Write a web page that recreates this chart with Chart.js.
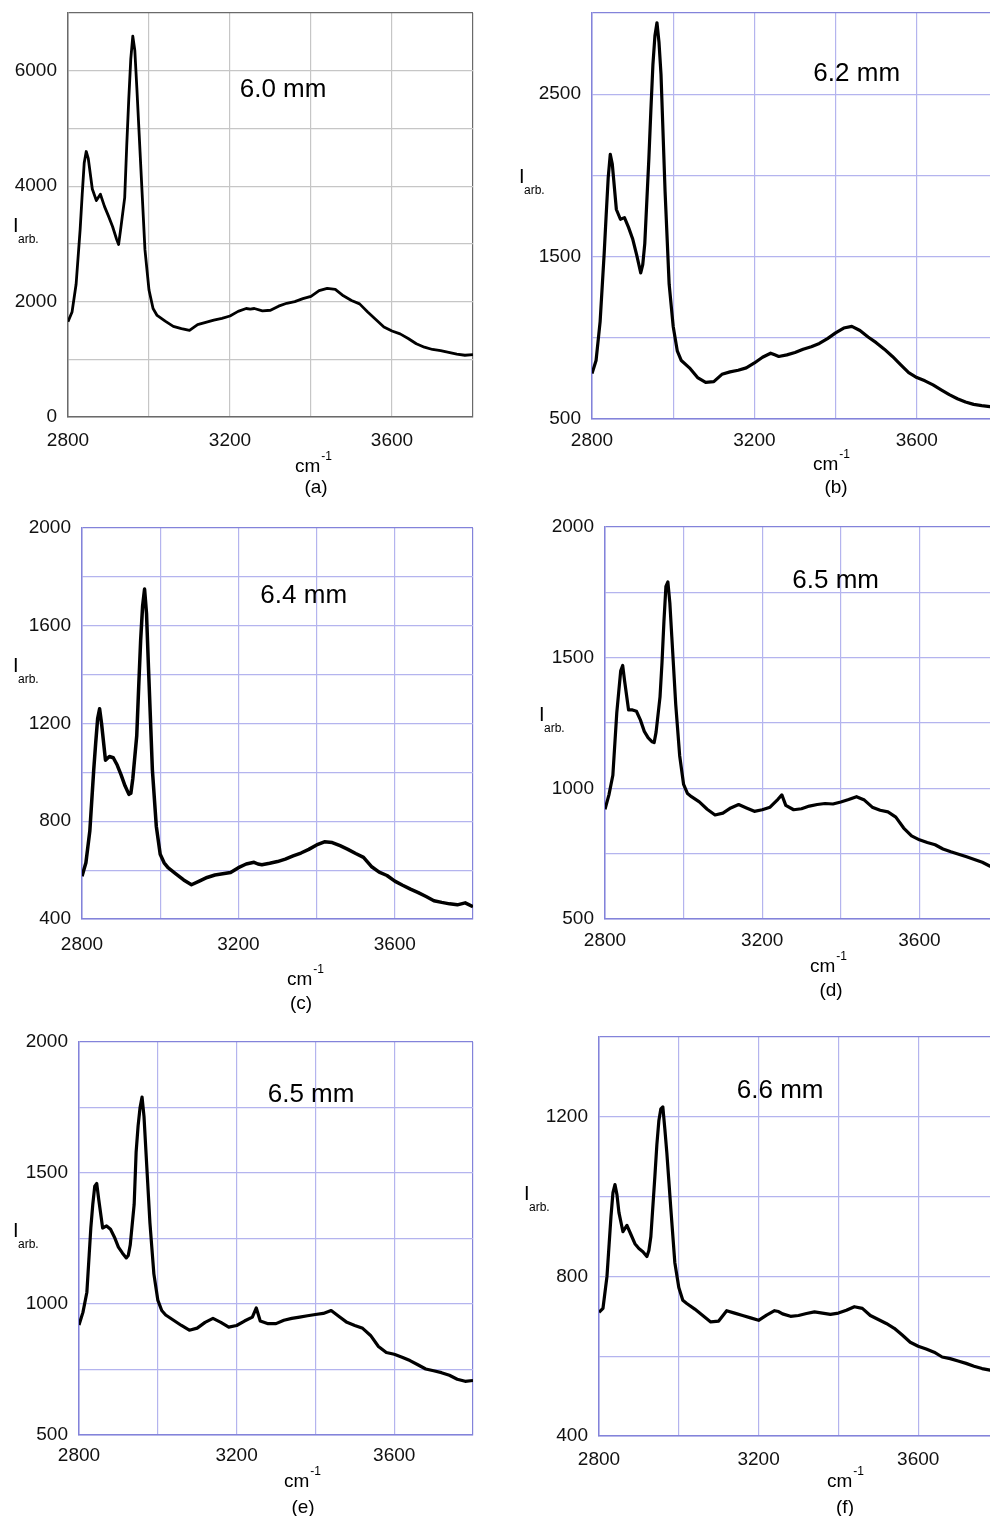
<!DOCTYPE html>
<html>
<head>
<meta charset="utf-8">
<script src="https://cdn.jsdelivr.net/npm/chart.js@4.4.1/dist/chart.umd.min.js"></script>
<style>
  html, body { margin: 0; padding: 0; background: #fff; overflow: hidden; }
  #page { position: relative; width: 990px; height: 1516px; overflow: hidden; background: #fff; }
  .panel { position: absolute; }
</style>
</head>
<body>
<div id="page"></div>
<script>
// Raman spectra, wavenumber in cm-1 (shared by all six panels)
const wavenumbers = [
  2800, 2810, 2820, 2830, 2835, 2840, 2845, 2850, 2860, 2870, 2880, 2890, 2900, 2910, 2920, 2925,
  2930, 2940, 2945, 2950, 2955, 2960, 2965, 2970, 2980, 2990, 3000, 3010, 3020, 3040, 3060, 3080,
  3100, 3120, 3140, 3160, 3180, 3200, 3220, 3240, 3250, 3260, 3280, 3300, 3320, 3340, 3360, 3380,
  3400, 3420, 3440, 3460, 3480, 3500, 3520, 3540, 3560, 3580, 3600, 3620, 3640, 3660, 3680, 3700,
  3720, 3740, 3760, 3780, 3800
];

// (a) 6.0 mm
const intensityA = [
  1650, 1820, 2300, 3250, 3850, 4400, 4600, 4480, 3950, 3750, 3860, 3650, 3480, 3300, 3080, 2990,
  3250, 3800, 4700, 5500, 6200, 6600, 6350, 5700, 4300, 2900, 2200, 1880, 1760, 1660, 1570, 1530,
  1500, 1600, 1640, 1680, 1710, 1750, 1830, 1880, 1870, 1880, 1840, 1850, 1920, 1970, 2000, 2050,
  2090, 2190, 2230, 2210, 2100, 2020, 1960, 1820, 1690, 1560, 1490, 1440, 1360, 1270, 1210, 1170,
  1150, 1120, 1090, 1070, 1080
];
// (b) 6.2 mm
const intensityB = [
  780, 860, 1100, 1520, 1760, 1990, 2130, 2070, 1790, 1730, 1740, 1680, 1610, 1510, 1400, 1450,
  1580, 2100, 2400, 2680, 2860, 2940, 2820, 2620, 1900, 1330, 1070, 920, 860, 815, 755, 725,
  730, 775, 790, 800, 815, 845, 880, 905, 895, 885, 895, 910, 930, 945, 965, 995,
  1030, 1060, 1070, 1045, 1005, 970, 930, 885, 835, 785, 755, 735, 710, 680, 650, 625,
  605, 590, 582, 576, 572
];
// (c) 6.4 mm
const intensityC = [
  575, 630, 760, 1010, 1120, 1220, 1260, 1200, 1050, 1065, 1060, 1030, 990, 945, 910, 915,
  975, 1150, 1350, 1540, 1680, 1750, 1650, 1430, 1010, 780, 665, 630, 610, 585, 560, 540,
  555, 570, 580, 585, 590, 610, 625, 632, 625, 622, 628, 635, 645, 658, 670, 685,
  703, 716, 713, 700, 685, 668, 652, 615, 592, 578, 555, 538, 522, 508, 492, 475,
  468, 462, 458, 466, 450
];
// (d) 6.5 mm
const intensityD = [
  920, 975, 1050, 1290, 1370, 1450, 1470, 1410, 1300, 1300, 1295, 1262, 1218, 1193, 1178, 1175,
  1215, 1350, 1480, 1640, 1773, 1790, 1710, 1580, 1320, 1125, 1015, 980, 968, 948, 920, 898,
  905, 925, 938, 925, 912, 918, 928, 958, 975, 935, 918, 922, 932, 938, 942, 940,
  948, 957, 968, 955, 928, 916, 910, 890, 848, 818, 803, 793, 784, 768, 757, 748,
  738, 728, 717, 702, 695
];
// (e) 6.5 mm
const intensityE = [
  920, 968, 1045, 1290, 1380, 1450, 1460, 1400, 1290, 1298, 1285, 1255, 1217, 1195, 1176, 1185,
  1225, 1380, 1580, 1680, 1750, 1790, 1715, 1580, 1310, 1115, 1015, 975, 958, 938, 918, 900,
  908, 930, 945, 930, 912, 918, 935, 950, 985, 935, 925, 925, 938, 945, 950, 955,
  960, 964, 975, 952, 930, 918, 907, 880, 838, 815, 808, 797, 784, 768, 752, 745,
  738, 728, 713, 705, 708
];
// (f) 6.6 mm
const intensityF = [
  710, 720, 800, 950, 1010, 1030, 1005, 960, 912, 928, 905, 882, 870, 862, 850, 865,
  900, 1050, 1130, 1190, 1220, 1225, 1170, 1110, 970, 835, 772, 740, 732, 718, 702, 686,
  688, 714, 708, 702, 696, 690, 703, 714, 712, 706, 700, 702, 707, 711, 708, 705,
  708, 715, 724, 720, 702, 692, 682, 670, 653, 635, 625, 618, 610, 598, 594, 588,
  582, 575, 569, 565, 560
];

const xTickLabels = [2800, 3200, 3600];
const yTickLabelsA = [0, 2000, 4000, 6000];
const yTickLabelsB = [500, 1500, 2500];
const yTickLabelsC = [400, 800, 1200, 1600, 2000];
const yTickLabelsD = [500, 1000, 1500, 2000];
const yTickLabelsE = [500, 1000, 1500, 2000];
const yTickLabelsF = [400, 800, 1200];

const distances = ['6.0 mm', '6.2 mm', '6.4 mm', '6.5 mm', '6.5 mm', '6.6 mm'];
const captions = ['(a)', '(b)', '(c)', '(d)', '(e)', '(f)'];

// layout of each panel on the page (plot box in page pixels)
const GRAY = { grid: '#c6c6c6', border: '#6a6a6a' };
const BLUE = { grid: '#b4b4ee', border: '#8383da' };
const panels = [
  { data: intensityA, yLabels: yTickLabelsA, plot: [68, 13, 473, 417], y: [0, 7000, 1000],
    xPad: 12, iPos: [-55, 219], cmPos: [227, 55], capPos: [248, 76], noteAt: [3331, 5662], colors: GRAY, lw: 2.8 },
  { data: intensityB, yLabels: yTickLabelsB, plot: [592, 13, 998, 419], y: [500, 3000, 500],
    xPad: 10, iPos: [-73, 170], cmPos: [221, 51], capPos: [244, 74], noteAt: [3452, 2623], colors: BLUE, lw: 3.2 },
  { data: intensityC, yLabels: yTickLabelsC, plot: [82, 528, 473, 919], y: [400, 2000, 200],
    xPad: 14, iPos: [-69, 144], cmPos: [205, 66], capPos: [219, 90], noteAt: [3367, 1722], colors: BLUE, lw: 3.5 },
  { data: intensityD, yLabels: yTickLabelsD, plot: [605, 527, 998, 919], y: [500, 2000, 250],
    xPad: 10, iPos: [-66, 194], cmPos: [205, 53], capPos: [226, 77], noteAt: [3387, 1793], colors: BLUE, lw: 3.2 },
  { data: intensityE, yLabels: yTickLabelsE, plot: [79, 1042, 473, 1435], y: [500, 2000, 250],
    xPad: 9, iPos: [-66, 195], cmPos: [205, 52], capPos: [224, 78], noteAt: [3389, 1798], colors: BLUE, lw: 3.2 },
  { data: intensityF, yLabels: yTickLabelsF, plot: [599, 1037, 998, 1436], y: [400, 1400, 200],
    xPad: 12, iPos: [-75, 163], cmPos: [228, 51], capPos: [246, 77], noteAt: [3254, 1265], colors: BLUE, lw: 3.2 }
];

const FONT = '"Liberation Sans", Arial, sans-serif';
const M_LEFT = 80, M_TOP = 30, M_RIGHT = 20, M_BOTTOM = 110;

// draws the distance label, the I_arb. axis title, cm^-1 and the panel letter
const panelText = {
  id: 'panelText',
  afterDraw(chart, args, opts) {
    const { ctx, chartArea: a, scales } = chart;
    const p = opts.panel;
    ctx.save();
    ctx.fillStyle = '#000';
    ctx.textBaseline = 'middle';
    ctx.textAlign = 'center';
    ctx.font = '26px ' + FONT;
    ctx.fillText(opts.note, scales.x.getPixelForValue(p.noteAt[0]), scales.y.getPixelForValue(p.noteAt[1]));

    ctx.textBaseline = 'alphabetic';
    ctx.textAlign = 'left';
    const ix = a.left + p.iPos[0], iy = a.top + p.iPos[1];
    ctx.font = '20px ' + FONT;
    ctx.fillText('I', ix, iy);
    ctx.font = '12px ' + FONT;
    ctx.fillText('arb.', ix + 5, iy + 11);

    const cx = a.left + p.cmPos[0], cy = a.bottom + p.cmPos[1];
    ctx.font = '19px ' + FONT;
    ctx.fillText('cm', cx, cy);
    const cw = ctx.measureText('cm').width;
    ctx.font = '12px ' + FONT;
    ctx.fillText('-1', cx + cw + 1, cy - 12);

    ctx.textAlign = 'center';
    ctx.font = '19px ' + FONT;
    ctx.fillText(opts.caption, a.left + p.capPos[0], a.bottom + p.capPos[1]);
    ctx.restore();
  }
};

const page = document.getElementById('page');

panels.forEach((p, i) => {
  const [pl, pt, pr, pb] = p.plot;
  const w = pr - pl + M_LEFT + M_RIGHT;
  const h = pb - pt + M_TOP + M_BOTTOM;
  const box = document.createElement('div');
  box.className = 'panel';
  box.style.left = (pl - M_LEFT) + 'px';
  box.style.top = (pt - M_TOP) + 'px';
  box.style.width = w + 'px';
  box.style.height = h + 'px';
  const canvas = document.createElement('canvas');
  canvas.width = w;
  canvas.height = h;
  box.appendChild(canvas);
  page.appendChild(box);

  const [yMin, yMax, yStep] = p.y;
  const edgeColor = (max) => (c) => (c.tick && c.tick.value === max ? p.colors.border : p.colors.grid);

  new Chart(canvas, {
    type: 'line',
    data: {
      datasets: [{
        data: wavenumbers.map((wn, k) => ({ x: wn, y: p.data[k] })),
        borderColor: '#000',
        borderWidth: p.lw,
        borderJoinStyle: 'round',
        pointRadius: 0,
        tension: 0,
        fill: false
      }]
    },
    options: {
      responsive: false,
      animation: false,
      devicePixelRatio: 1,
      layout: { padding: { left: 0, top: M_TOP, right: M_RIGHT, bottom: 0 } },
      plugins: {
        legend: { display: false },
        tooltip: { enabled: false },
        panelText: { panel: p, note: distances[i], caption: captions[i] }
      },
      scales: {
        x: {
          type: 'linear',
          min: 2800,
          max: 3800,
          afterFit: (s) => { s.height = M_BOTTOM; },
          afterBuildTicks: (s) => { s.ticks = [2800, 3000, 3200, 3400, 3600, 3800].map(v => ({ value: v })); },
          border: { color: p.colors.border, width: 1.5 },
          grid: { color: edgeColor(3800), lineWidth: 1.2, drawTicks: false },
          ticks: {
            autoSkip: false,
            maxRotation: 0,
            padding: p.xPad,
            color: '#111',
            font: { family: FONT, size: 19 },
            callback: (v) => (xTickLabels.includes(v) ? String(v) : '')
          }
        },
        y: {
          type: 'linear',
          min: yMin,
          max: yMax,
          afterFit: (s) => { s.width = M_LEFT; },
          border: { color: p.colors.border, width: 1.5 },
          grid: { color: edgeColor(yMax), lineWidth: 1.2, drawTicks: false },
          ticks: {
            stepSize: yStep,
            autoSkip: false,
            padding: 11,
            color: '#111',
            font: { family: FONT, size: 19 },
            callback: (v) => (p.yLabels.includes(v) ? String(v) : '')
          }
        }
      }
    },
    plugins: [panelText]
  });
});
</script>
</body>
</html>
